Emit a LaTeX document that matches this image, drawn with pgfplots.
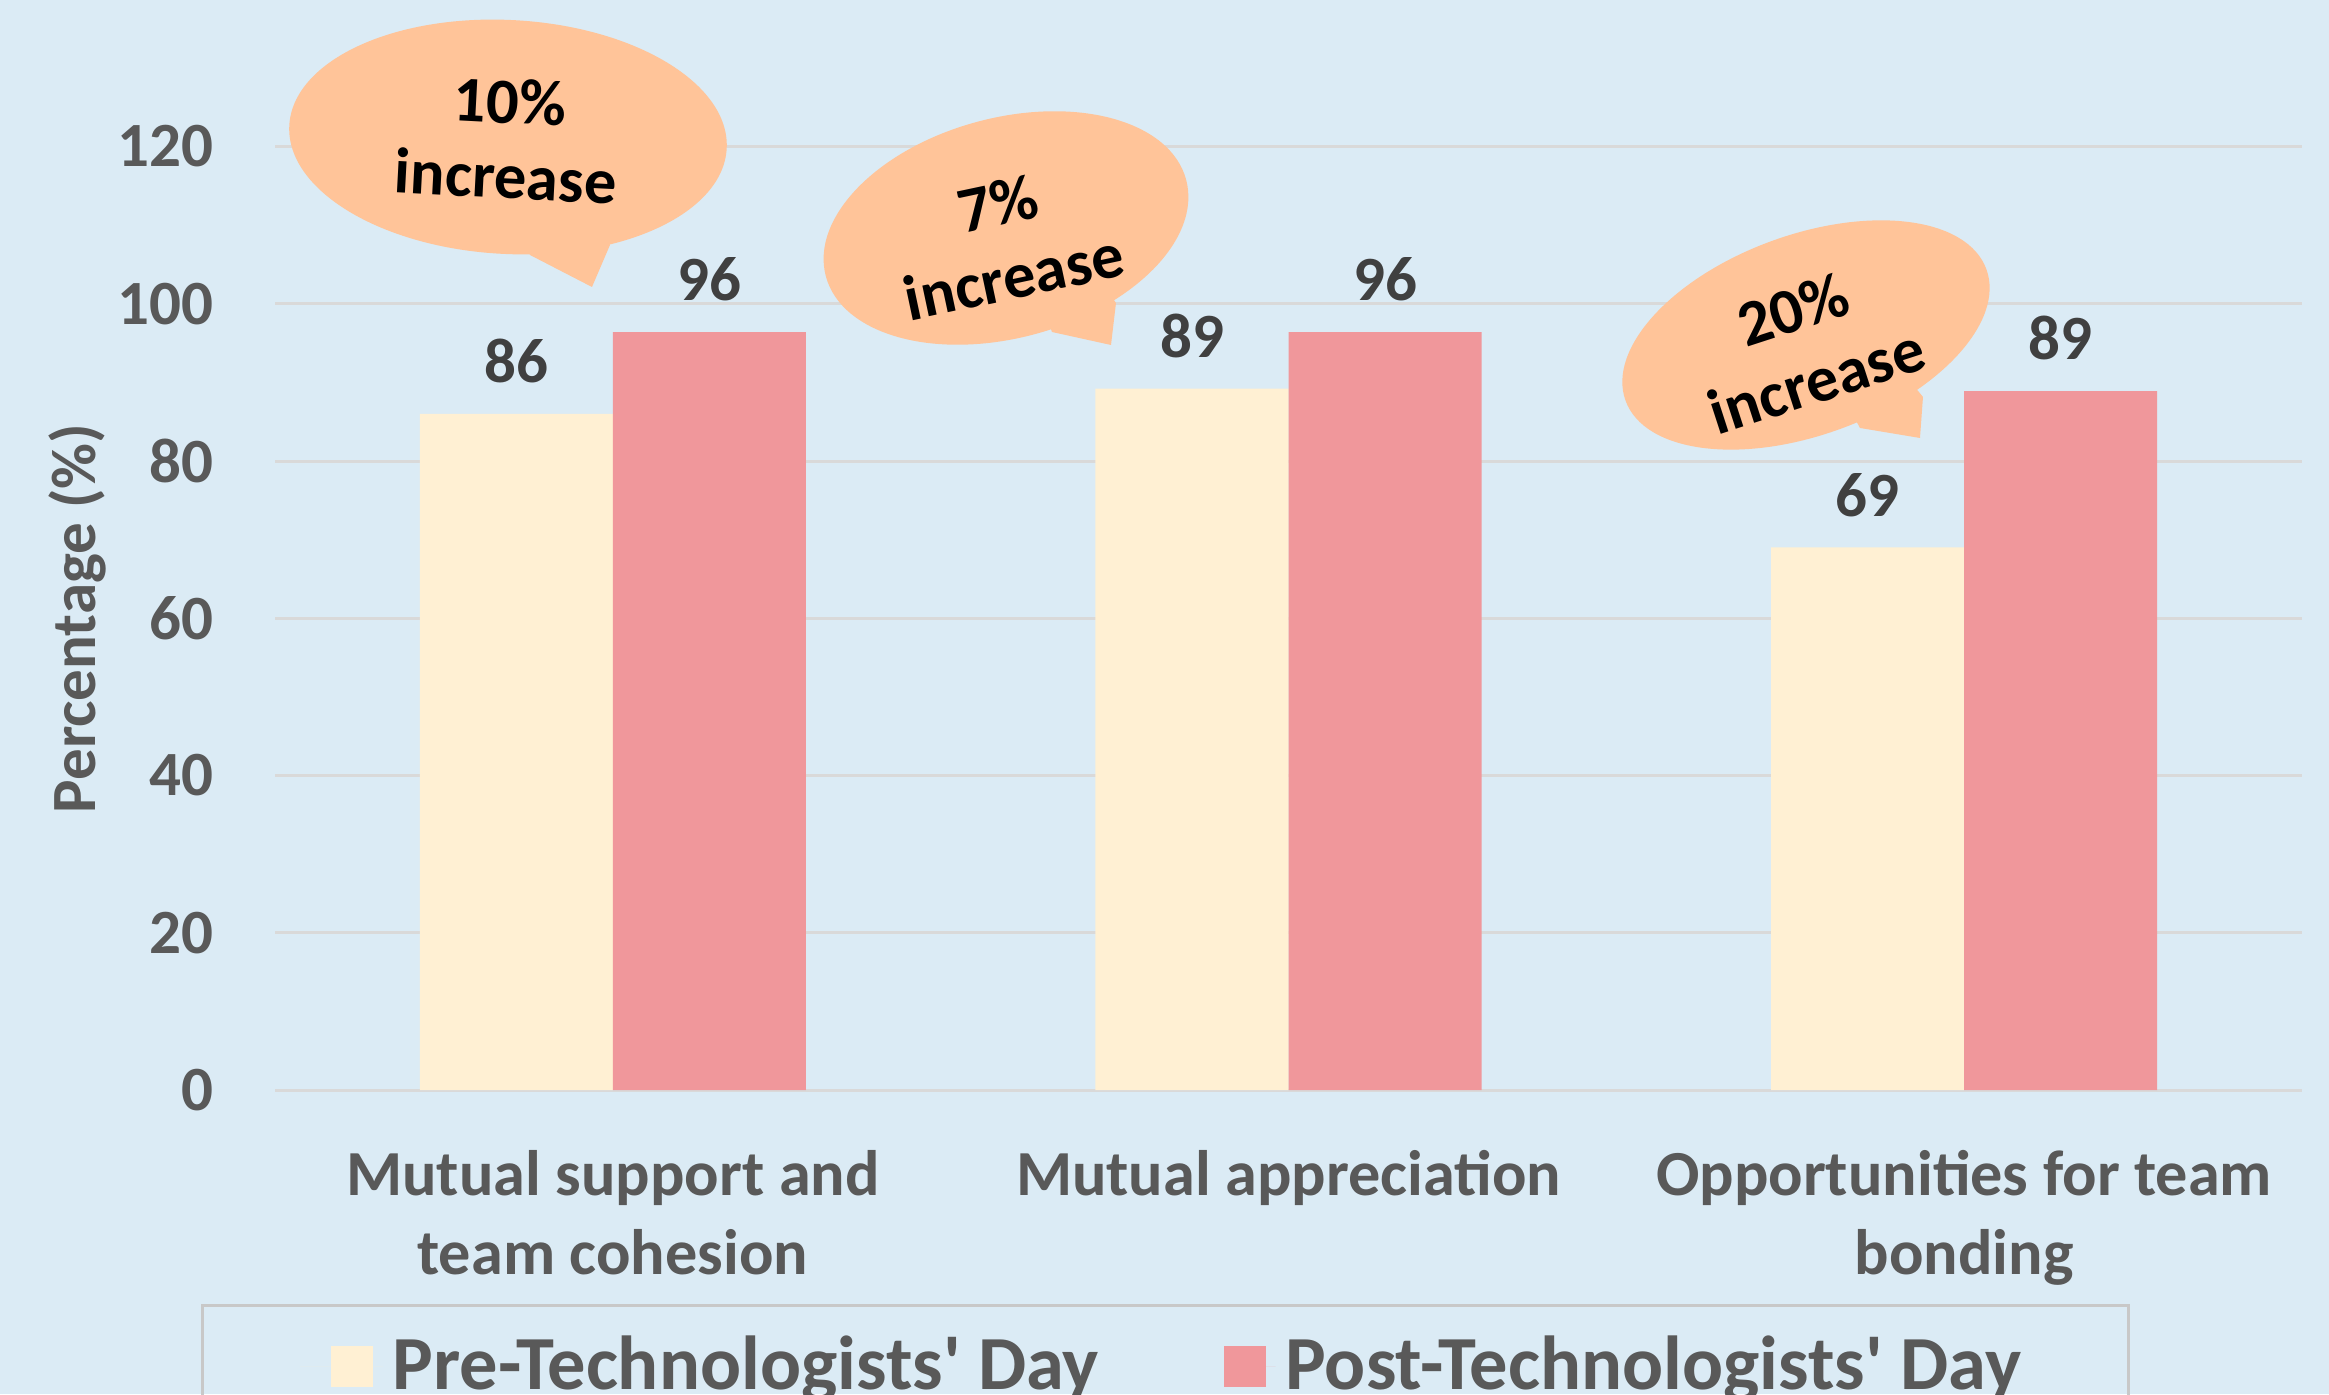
\documentclass[border=0pt]{standalone}
\usepackage{pgfplots}
\pgfplotsset{compat=1.18}
\usepackage{fontspec}
\setmainfont{Carlito}
\definecolor{bg}{HTML}{DBEBF5}
\definecolor{pre}{HTML}{FFF0D3}
\definecolor{post}{HTML}{F0979B}
\definecolor{callc}{HTML}{FFC499}
\definecolor{gridc}{HTML}{D9D9D9}
\definecolor{textgray}{HTML}{595959}
\definecolor{labeldark}{HTML}{404040}
\definecolor{legendc}{HTML}{C8C8C8}
\begin{document}
\begin{tikzpicture}
\fill[bg] (0,0) rectangle (465.8pt,278.8pt);
\begin{axis}[
  at={(55pt,60.8pt)}, anchor=south west,
  scale only axis, width=405.4pt, height=188.7pt,
  xmin=-0.5, xmax=2.5, ymin=0, ymax=120,
  ytick={0,20,...,120},
  xtick={0,1,2},
  xticklabels={{Mutual support and\\team cohesion},{Mutual appreciation},{Opportunities for team\\bonding}},
  ymajorgrids, grid style={draw=gridc, line width=0.6pt},
  axis line style={draw=none},
  major tick length=0pt, tick style={draw=none},
  /pgf/number format/assume math mode=true,
  yticklabel style={font=\fontsize{12.6}{15}\selectfont\bfseries, text=textgray, inner sep=0pt, anchor=east, xshift=-12.2pt},
  xticklabel style={font=\fontsize{12.85}{15.8}\selectfont\bfseries, text=textgray, align=center, inner sep=0pt, anchor=north, yshift=-11.8pt},
  ylabel={Percentage (\%)},
  ylabel style={font=\fontsize{12.6}{15}\selectfont\bfseries, text=textgray, at={(axis description cs:-0.0885,0.5)}, anchor=base},
  nodes near coords={\pgfmathprintnumber[fixed,precision=0]{\pgfplotspointmeta}},
  every node near coord/.append style={font=\fontsize{12.6}{15}\selectfont\bfseries, text=labeldark, inner sep=0pt, anchor=south, yshift=6pt},
  legend columns=2,
  legend image code/.code={\fill[#1,draw=none] (0pt,-4.1pt) rectangle (8.3pt,4.1pt); \path (0pt,0pt) -- (10.3pt,0pt);},
  legend style={at={(0.4393,-0.2265)}, anchor=north, draw=legendc, line width=0.7pt, fill=none,
    font=\fontsize{15.3}{18}\selectfont\bfseries, text=textgray, inner xsep=19.5pt, inner ysep=4pt,
    /tikz/every even column/.append style={column sep=23pt}},
]
\addplot[ybar, bar width=0.2857, bar shift=-0.14285, fill=pre, draw=none,
  every node near coord/.append style={xshift=-19.3pt},
  legend image code/.code={\fill[pre] (0pt,-4.1pt) rectangle (8.3pt,4.1pt); \path (-6.3pt,0pt) -- (10.3pt,0pt);}]
  coordinates {(0,86) (1,89.2) (2,69)};
\addplot[ybar, bar width=0.2857, bar shift=0.14285, fill=post, draw=none,
  every node near coord/.append style={xshift=19.3pt}]
  coordinates {(0,96.4) (1,96.4) (2,88.9)};
\legend{Pre-Technologists\textquotesingle\ Day, Post-Technologists\textquotesingle\ Day}
\end{axis}
\begin{scope}[x=0.2pt, y=-0.2pt, shift={(0pt,278.8pt)}]
% callout 1
\fill[callc, rotate around={-3:(508,137)}] (508,137) ellipse [x radius=43.8pt, y radius=23.4pt];
\fill[callc] (515,225) -- (530,255) -- (592,287) -- (610,245) -- (600,220) -- cycle;
\node[font=\fontsize{12.9}{15}\selectfont\bfseries, align=center, rotate=-3, inner sep=0pt] at (508,139) {10\%\\increase};
% callout 2
\fill[callc, rotate around={15:(1006,228)}] (1006,228) ellipse [x radius=37.3pt, y radius=22pt];
\fill[callc] (1040,300) -- (1052,332) -- (1111,345) -- (1116,303) -- (1100,280) -- cycle;
\node[font=\fontsize{12.9}{15}\selectfont\bfseries, align=center, rotate=12, inner sep=0pt] at (1006,240) {7\%\\increase};
% callout 3
\fill[callc, rotate around={20:(1806,335)}] (1806,335) ellipse [x radius=38.4pt, y radius=20pt];
\fill[callc] (1845,400) -- (1860,428) -- (1920,438) -- (1923,397) -- (1905,375) -- cycle;
\node[font=\fontsize{12.9}{15}\selectfont\bfseries, align=center, rotate=18, inner sep=0pt] at (1805,345) {20\%\\increase};
\end{scope}
\pgfresetboundingbox
\path[use as bounding box] (0,0) rectangle (465.8pt,278.8pt);
\end{tikzpicture}
\end{document}
